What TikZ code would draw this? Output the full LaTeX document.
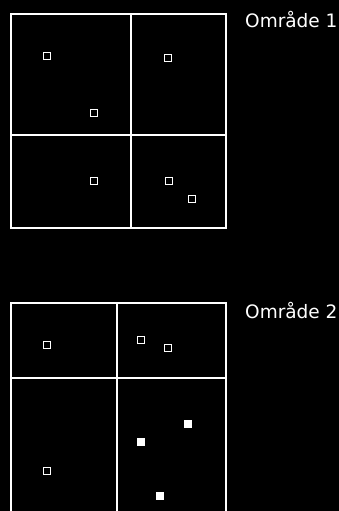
\documentclass[tikz,border=0pt]{standalone}
\usepackage{fontspec}
\setmainfont{DejaVu Sans}

\tikzset{
  grid line/.style={draw=white, line width=1.2pt},
  hollow pt/.style={draw=white, fill=black, rectangle, line width=1.3pt,
    minimum size=7pt, inner sep=0pt},
  solid pt/.style={draw=none, fill=white, rectangle,
    minimum size=8.5pt, inner sep=0pt},
  label txt/.style={text=white, anchor=base west, inner sep=0pt,
    font={\fontsize{18.5}{18.5}\selectfont}}
}

\begin{document}
\begin{tikzpicture}[x=1pt,y=-1pt]

\fill [black] (0,0) rectangle (339,511);
\useasboundingbox (0,0) rectangle (339,511);
\clip (0,0) rectangle (339,511);

%% first area
\draw [grid line] (11,14) rectangle (226,228);
\draw [grid line] (131,14) -- (131,228);
\draw [grid line] (11,135) -- (226,135);

\node [label txt] (lbl1) at (245,28) {Område 1};

\node [hollow pt] (a1) at (47,56) {};
\node [hollow pt] (a2) at (94,113) {};
\node [hollow pt] (a3) at (168,58) {};
\node [hollow pt] (a4) at (94,181) {};
\node [hollow pt] (a5) at (169,181) {};
\node [hollow pt] (a6) at (192,199) {};

%% second area
\draw [grid line] (11,303) rectangle (226,530);
\draw [grid line] (117,303) -- (117,530);
\draw [grid line] (11,378) -- (226,378);

\node [label txt] (lbl2) at (245,318) {Område 2};

\node [hollow pt] (b1) at (47,345) {};
\node [hollow pt] (b2) at (141,340) {};
\node [hollow pt] (b3) at (168,348) {};
\node [hollow pt] (b4) at (47,471) {};

\node [solid pt] (c1) at (188,424) {};
\node [solid pt] (c2) at (141,442) {};
\node [solid pt] (c3) at (160,496) {};

\end{tikzpicture}
\end{document}
